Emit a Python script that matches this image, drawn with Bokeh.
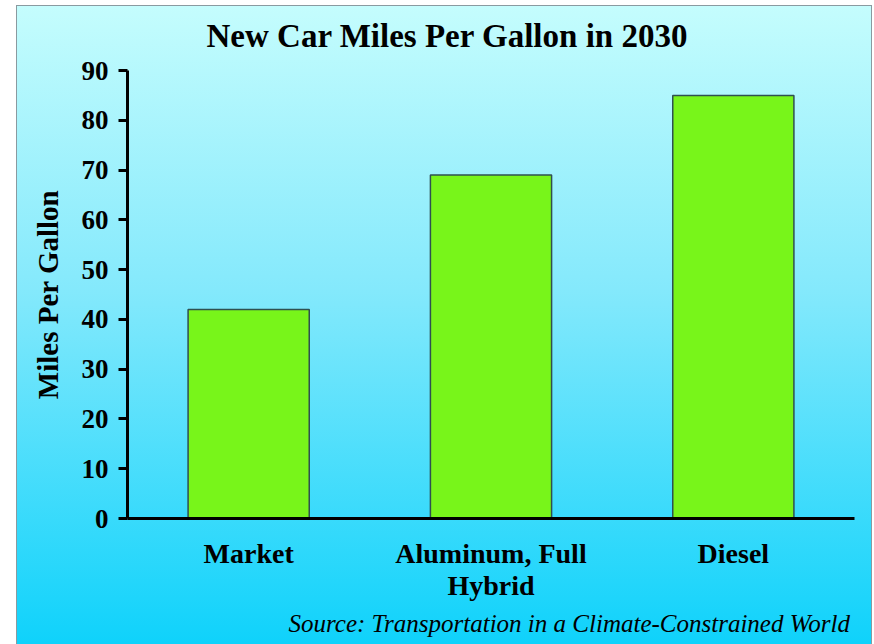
from bokeh.plotting import figure
from bokeh.models import Title, ColumnDataSource, FixedTicker
from bokeh.embed import file_html
from bokeh.resources import INLINE

# Projected new-car fuel economy, 2030
categories = ["Market", "Aluminum, Full\nHybrid", "Diesel"]
mpg = [42, 69, 85]
y_ticks = [0, 10, 20, 30, 40, 50, 60, 70, 80, 90]

SERIF = "Liberation Serif"
EDGE = "#8a9aa0"

src = ColumnDataSource(data=dict(cat=categories, mpg=mpg))

p = figure(
    x_range=categories, y_range=(0, 90),
    width=856, height=644,
    output_backend="svg", toolbar_location=None,
    min_border_left=111, min_border_right=18,
    min_border_top=70, min_border_bottom=126,
    background_fill_color=None, border_fill_color=None,
    outline_line_color=None,
)
p.margin = (0, 0, 0, 16)
# white strip on top, thin grey frame, cyan vertical gradient behind everything
p.styles = {
    "background": ", ".join([
        f"linear-gradient({EDGE}, {EDGE}) left 0 top 5px / 100% 1px no-repeat",
        f"linear-gradient({EDGE}, {EDGE}) left 0 top 5px / 1px 100% no-repeat",
        f"linear-gradient({EDGE}, {EDGE}) right 0 top 5px / 1px 100% no-repeat",
        "linear-gradient(#ffffff, #ffffff) left 0 top 0 / 100% 5px no-repeat",
        "linear-gradient(to bottom, #c6fdfd 0%, #84e9fc 45%, #0fd2fb 100%)",
    ]),
}
p.x_range.range_padding = 0

p.vbar(x="cat", top="mpg", width=0.5, source=src,
       fill_color="#78f51a", line_color="#2f5050", line_width=1.5)

p.grid.visible = False

# y axis
ya = p.yaxis[0]
ya.ticker = FixedTicker(ticks=y_ticks)
ya.axis_line_width = 3
ya.major_tick_line_width = 3
ya.major_tick_out = 9
ya.major_tick_in = 0
ya.minor_tick_line_color = None
ya.major_label_standoff = 10
ya.major_label_text_font = SERIF
ya.major_label_text_font_style = "bold"
ya.major_label_text_font_size = "27px"
ya.major_label_text_color = "black"
ya.axis_label = "Miles Per Gallon"
ya.axis_label_text_font = SERIF
ya.axis_label_text_font_style = "bold"
ya.axis_label_text_font_size = "29px"
ya.axis_label_text_color = "black"
ya.axis_label_standoff = 15

# x axis
xa = p.xaxis[0]
xa.axis_line_width = 3
xa.major_tick_line_color = None
xa.minor_tick_line_color = None
xa.major_label_standoff = 13
xa.major_label_text_font = SERIF
xa.major_label_text_font_style = "bold"
xa.major_label_text_font_size = "28px"
xa.major_label_text_line_height = 1.05
xa.major_label_text_color = "black"

# chart title, set left of the frame's centre
p.title.text = "New Car Miles Per Gallon in 2030"
p.title.align = "left"
p.title.offset = 79
p.title.vertical_align = "top"
p.title.text_font = SERIF
p.title.text_font_style = "bold"
p.title.text_font_size = "33px"
p.title.text_color = "black"
p.title.standoff = 30

# source note under the category labels
p.add_layout(Title(text="Source: Transportation in a Climate-Constrained World",
                   align="left", offset=161,
                   text_font=SERIF, text_font_style="italic",
                   text_font_size="25px", text_color="black",
                   standoff=6), "below")

open("out.html", "w").write(file_html(p, INLINE))
